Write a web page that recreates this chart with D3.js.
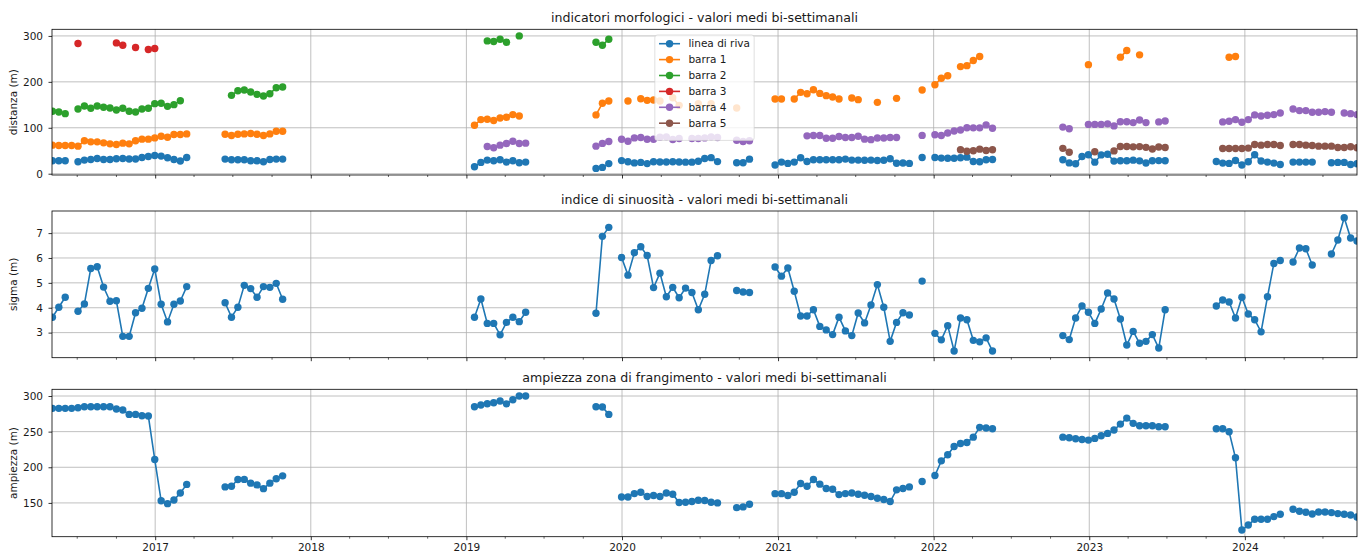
<!DOCTYPE html>
<html>
<head>
<meta charset="utf-8">
<script src="https://cdn.jsdelivr.net/npm/d3@7"></script>
<style>
  html, body { margin: 0; padding: 0; background: #fff; }
  svg { display: block; font-family: "DejaVu Sans", sans-serif; }
</style>
</head>
<body>
<svg id="chart" width="1365" height="554"></svg>
<script>
// Sampling grid: one averaged value every 15 days starting from START.
const START = "2016-05-05";
const STEP_DAYS = 15;
const N_SAMPLES = 205;
const X_DOMAIN = ["2016-05-04", "2024-09-20"];
const YEAR_TICKS = ["2017", "2018", "2019", "2020", "2021", "2022", "2023", "2024"];

// Each series is a list of runs: [index of first sample, consecutive values]
const lineaDiRiva = [
  [0, [28.2, 28.2, 28.2]],
  [4, [26, 29.6, 31, 33, 31, 31, 32.5, 33, 32, 32, 35.4, 37.6, 39.8, 38.3, 34.7, 31, 27.5, 35.4]],
  [27, [31.8, 30.4, 30.4, 30.4, 28.2, 28.2, 26, 31, 31.8, 31.8]],
  [66, [15.2, 24.6, 29.6, 28.2, 30.4, 25.3, 28.2, 23.9, 25.3]],
  [85, [11.6, 13.7, 22]],
  [89, [28.5, 26, 23.5, 24.6, 22, 26, 25.6, 25.6, 26, 25.6, 25.2, 25.2, 27, 33.2, 35, 26.4]],
  [107, [23.9, 23.9, 31.7]],
  [113, [18.8, 25.3, 22.4, 25.3, 34.7, 26.7, 30.4, 30.4, 30.4, 30.4, 30.4, 31.8, 29.6, 29.6, 29.2, 29.6, 28.9, 29.2, 32.5, 22.8, 23.2, 22.4]],
  [136, [35.4]],
  [138, [35.4, 34, 33.7, 33.7, 34.7, 36, 26.7, 26, 30.4, 31]],
  [158, [30.4, 23.5, 21.7, 37.6, 41.2, 25.2, 40.9, 42.2, 27.4, 28.2, 28.2, 29.5, 28, 23.4, 28.2, 28.5, 28.2]],
  [182, [26.7, 23.1, 22.4, 28.9, 18.8, 26, 41.2, 27.5, 25.3, 23.1, 20.2]],
  [194, [25.3, 25.3, 25.3, 25.3]],
  [200, [23.9, 24.6, 24.6, 20.2, 21.7]]
];

const barra1 = [
  [0, [62.2, 61.4, 61.4, 61.4, 60, 71.6, 69.4, 69.4, 67.2, 65, 63.6, 66.5, 65, 71.6, 75.2, 75.2, 78, 81.7, 79.5, 85.3, 85.3, 86.7]],
  [27, [86, 83.1, 86, 86.7, 87.5, 86, 83.1, 86.7, 92.5, 92.5]],
  [66, [105.5, 117.8, 118.6, 115.7, 121.4, 122.9, 128.7, 125.8]],
  [85, [128, 153.3, 158.3]],
  [90, [158.3]],
  [92, [163.3, 159.7, 160.4, 158.3]],
  [97, [165.5, 148.8]],
  [101, [152.5]],
  [103, [152.5]],
  [107, [143.2]],
  [113, [162.7, 162.7]],
  [116, [162.7, 177.1, 174.2, 182.9, 174.9, 169.9, 167, 162.7]],
  [125, [164.8, 161.2]],
  [129, [155.4]],
  [132, [164.1]],
  [136, [182.2]],
  [138, [193.7, 207.8, 213.3]],
  [142, [233.2, 235.3, 246.5, 255.2]],
  [162, [237.5]],
  [167, [253.8, 268.1]],
  [170, [258.8]],
  [184, [253.7, 255.2]]
];

const barra2 = [
  [0, [135.9, 134.5, 130.8]],
  [4, [141, 147.5, 142.4, 147.5, 144.6, 143.1, 138.8, 142.4, 135.9, 134.5, 141, 142.4, 152.5, 153.3, 146.7, 150.4, 159]],
  [28, [170.6, 180.7, 182.2, 177.8, 172.8, 169.2, 174.2, 187.2, 188.7]],
  [68, [289.2, 287.7, 292.8, 286.3]],
  [73, [300]],
  [85, [286.3, 279.8, 292.8]]
];

const barra3 = [
  [4, [283.4]],
  [10, [284.8, 279.8]],
  [13, [274.7]],
  [15, [270.4, 272.5]]
];

const barra4 = [
  [68, [59.3, 56.4, 62.2, 65.8, 70.8, 65.8, 66.5]],
  [85, [60, 66, 70]],
  [89, [75.1, 70.8, 78, 78.7, 75.1, 75.1, 79.4, 80.2, 74.4, 76.6]],
  [100, [76.6, 76.6, 78, 80.2, 78.7]],
  [107, [73, 70.1, 71.6]],
  [118, [82.4, 83.1, 83.1, 77.3, 77.3, 81, 78.8, 78.8, 81.7, 75.2, 74.2, 77.7, 77.7, 78.7, 78.7]],
  [136, [83.4]],
  [138, [84.9, 83.1, 88.5, 92.9, 95, 100, 99.8, 99.8, 106.3, 99]],
  [158, [101.5, 98]],
  [162, [107.3, 107.3, 107.3, 108.5, 104.1, 113, 113, 111.3, 116.8, 111.3]],
  [173, [112.8, 114.6]],
  [183, [112.8, 114.2, 117.8, 112, 117.8, 128, 125.8, 127.2, 128.7, 132.3]],
  [194, [141, 137.4, 137.4, 133.7, 133.7, 135.2, 133.7]],
  [202, [132.3, 130.8, 128.7]]
];

const barra5 = [
  [142, [52, 48.8, 49.9, 53.5, 50.6, 52]],
  [158, [55.2, 46.6]],
  [163, [47.7]],
  [166, [49.6, 59.2, 59.2, 58.5, 59, 57.4, 53.8, 58.2, 57]],
  [183, [54.9, 54.9, 54.9, 54.9, 55.7, 63.6, 62.2, 63.6, 63.6, 61.4]],
  [194, [63.6, 63.6, 62.2, 61.4, 60, 60, 60, 57.1, 57.1, 58.6, 56.4]]
];

const sigma = [
  [0, [3.62, 4.02, 4.42]],
  [4, [3.86, 4.15, 5.58, 5.65, 4.83, 4.26, 4.28, 2.85, 2.85, 3.80, 3.98, 4.78, 5.56, 4.14, 3.43, 4.14, 4.27, 4.85]],
  [27, [4.20, 3.62, 4.02, 4.90, 4.77, 4.42, 4.85, 4.82, 4.98, 4.34]],
  [66, [3.62, 4.35, 3.37, 3.37, 2.91, 3.41, 3.62, 3.44, 3.82]],
  [85, [3.78, 6.87, 7.23]],
  [89, [6.02, 5.31, 6.21, 6.45, 6.10, 4.81, 5.39, 4.44, 4.82, 4.40, 4.79, 4.61, 3.92, 4.54, 5.90, 6.09]],
  [107, [4.69, 4.63, 4.61]],
  [113, [5.64, 5.27, 5.60, 4.66, 3.67, 3.67, 3.92, 3.25, 3.11, 2.92, 3.62, 3.07, 2.88, 3.79, 3.39, 4.11, 4.93, 4.02, 2.65, 3.41, 3.80, 3.71]],
  [136, [5.07]],
  [138, [2.97, 2.71, 3.28, 2.26, 3.59, 3.52, 2.69, 2.63, 2.79, 2.26]],
  [158, [2.88, 2.72, 3.59, 4.07, 3.82, 3.37, 3.95, 4.59, 4.35, 3.55, 2.50, 3.05, 2.57, 2.65, 2.92, 2.38, 3.92]],
  [182, [4.07, 4.31, 4.23, 3.59, 4.42, 3.75, 3.52, 3.03, 4.44, 5.78, 5.90]],
  [194, [5.84, 6.40, 6.37, 5.72]],
  [200, [6.16, 6.72, 7.62, 6.80, 6.68]]
];

const ampiezza = [
  [0, [282.7, 282.7, 282.7, 282.7, 283.6, 285, 285, 285, 285, 285, 281.7, 280.3, 274.2, 274.2, 272.3, 271.9, 211, 153, 149, 154, 164, 176]],
  [27, [172.5, 173.4, 182.8, 183, 177.7, 175.3, 170, 177.7, 184, 188]],
  [66, [285, 287.3, 289.2, 290.6, 293, 289, 294.8, 300, 300]],
  [85, [285, 284.5, 274.2]],
  [89, [158.4, 158.4, 163.1, 165, 158.9, 160.3, 158.9, 164, 162.2, 150.5, 151, 151.9, 153.8, 153.3, 151, 150]],
  [107, [143.4, 144.4, 148.1]],
  [113, [163, 163, 160.3, 165, 177.2, 173.4, 182.8, 176.3, 170.2, 169.2, 161.7, 163.1, 164, 162.2, 160.8, 158.9, 156.6, 154.7, 151.9, 168.3, 170.2, 172.5]],
  [136, [180]],
  [138, [188.4, 209, 217.5, 229.2, 233.4, 234.8, 242.3, 256, 255, 254]],
  [158, [242.3, 241.4, 240, 239, 238.1, 240.5, 244.2, 247.5, 252.2, 260.6, 269, 261.6, 258.3, 258.3, 258.3, 256.9, 256.9]],
  [182, [254, 254, 249.8, 213.3, 112, 119, 127, 127, 127, 130.8, 134]],
  [194, [141.1, 138.3, 136.9, 134.5, 137.3, 137.3, 136.4, 135, 134, 133.1, 130.3]]
];

const TITLES = [
  "indicatori morfologici - valori medi bi-settimanali",
  "indice di sinuosità - valori medi bi-settimanali",
  "ampiezza zona di frangimento - valori medi bi-settimanali"
];
const Y_LABELS = ["distanza (m)", "sigma (m)", "ampiezza (m)"];
const Y_TICKS = [[0, 100, 200, 300], [3, 4, 5, 6, 7], [150, 200, 250, 300]];
const SERIES_NAMES = ["linea di riva", "barra 1", "barra 2", "barra 3", "barra 4", "barra 5"];
const COLORS = ["#1f77b4", "#ff7f0e", "#2ca02c", "#d62728", "#9467bd", "#8c564b"];

// ---------------------------------------------------------------------------
const parse = d3.utcParse("%Y-%m-%d");
const t0 = parse(START);

function expand(runs) {
  const vals = new Array(N_SAMPLES).fill(null);
  runs.forEach(([i0, vs]) => vs.forEach((v, k) => { vals[i0 + k] = v; }));
  return vals.map((v, i) => ({ date: d3.utcDay.offset(t0, i * STEP_DAYS), value: v }));
}

const svg = d3.select("#chart");
const LEFT = 52, RIGHT = 1357;
const FS = 10.5, TITLE_FS = 12.6, R = 3.7, LW = 1.6;
const x = d3.scaleUtc().domain(X_DOMAIN.map(parse)).range([LEFT, RIGHT]);
const yearDates = YEAR_TICKS.map(y => parse(y + "-01-01"));
const quarterDates = d3.utcMonth.every(3).range(x.domain()[0], x.domain()[1])
  .filter(d => d.getUTCMonth() !== 0);

const panels = [
  { top: 29.3, bottom: 175, series: [lineaDiRiva, barra1, barra2, barra3, barra4, barra5], colors: COLORS, legend: true },
  { top: 211, bottom: 357.7, series: [sigma], colors: [COLORS[0]] },
  { top: 389.3, bottom: 536.7, series: [ampiezza], colors: [COLORS[0]], xLabels: true }
];

const TEXT = "#1a1a1a";
const GRID = "#b0b0b0";

panels.forEach((p, pi) => {
  const data = p.series.map(expand);
  const allVals = data.flat().map(d => d.value).filter(v => v != null);
  const [mn, mx] = d3.extent(allVals);
  const pad = (mx - mn) * 0.05;
  const y = d3.scaleLinear().domain([mn - pad, mx + pad]).range([p.bottom, p.top]);
  const g = svg.append("g");

  const clipId = "clip" + pi;
  svg.append("clipPath").attr("id", clipId)
    .append("rect").attr("x", LEFT).attr("y", p.top)
    .attr("width", RIGHT - LEFT).attr("height", p.bottom - p.top);

  // grid
  const grid = g.append("g").attr("stroke", GRID).attr("stroke-width", 0.8);
  grid.selectAll("line.h").data(Y_TICKS[pi]).join("line")
    .attr("x1", LEFT).attr("x2", RIGHT)
    .attr("y1", d => y(d)).attr("y2", d => y(d));
  grid.selectAll("line.v").data(yearDates).join("line")
    .attr("x1", d => x(d)).attr("x2", d => x(d))
    .attr("y1", p.top).attr("y2", p.bottom);

  // series
  const plot = g.append("g").attr("clip-path", `url(#${clipId})`);
  const line = d3.line().defined(d => d.value != null)
    .x(d => x(d.date)).y(d => y(d.value));
  data.forEach((ser, si) => {
    const c = p.colors[si];
    plot.append("path").datum(ser).attr("d", line)
      .attr("fill", "none").attr("stroke", c).attr("stroke-width", LW);
    plot.append("g").selectAll("circle").data(ser.filter(d => d.value != null)).join("circle")
      .attr("cx", d => x(d.date)).attr("cy", d => y(d.value))
      .attr("r", R).attr("fill", c);
  });

  // frame
  g.append("rect").attr("x", LEFT).attr("y", p.top)
    .attr("width", RIGHT - LEFT).attr("height", p.bottom - p.top)
    .attr("fill", "none").attr("stroke", "#000").attr("stroke-width", 0.8);

  // y axis
  const yAxis = g.append("g").attr("transform", `translate(${LEFT},0)`)
    .call(d3.axisLeft(y).tickValues(Y_TICKS[pi]).tickSize(3.5).tickPadding(5.5).tickFormat(d3.format("d")));
  yAxis.select(".domain").remove();
  yAxis.selectAll("line").attr("stroke", "#000").attr("stroke-width", 0.8);
  yAxis.selectAll("text").attr("font-size", FS).attr("fill", TEXT)
    .attr("font-family", "DejaVu Sans, sans-serif");

  // x axis: yearly major ticks, quarterly minor ticks
  const xAxis = g.append("g").attr("transform", `translate(0,${p.bottom})`)
    .call(d3.axisBottom(x).tickValues(yearDates).tickSize(3.5).tickPadding(3.3)
      .tickFormat(p.xLabels ? d3.utcFormat("%Y") : () => ""));
  xAxis.select(".domain").remove();
  xAxis.selectAll("line").attr("stroke", "#000").attr("stroke-width", 0.8);
  xAxis.selectAll("text").attr("font-size", FS).attr("fill", TEXT)
    .attr("font-family", "DejaVu Sans, sans-serif");
  const xMinor = g.append("g").attr("transform", `translate(0,${p.bottom})`)
    .call(d3.axisBottom(x).tickValues(quarterDates).tickSize(2).tickFormat(() => ""));
  xMinor.select(".domain").remove();
  xMinor.selectAll("line").attr("stroke", "#000").attr("stroke-width", 0.6);

  // title and y label
  g.append("text").attr("x", (LEFT + RIGHT) / 2).attr("y", p.top - 7)
    .attr("text-anchor", "middle").attr("font-size", TITLE_FS).attr("fill", TEXT)
    .text(TITLES[pi]);
  g.append("text")
    .attr("transform", `translate(17,${(p.top + p.bottom) / 2}) rotate(-90)`)
    .attr("text-anchor", "middle").attr("font-size", FS).attr("fill", TEXT)
    .text(Y_LABELS[pi]);

  // legend
  if (p.legend) {
    const lg = g.append("g");
    const rowH = 15.9;
    const texts = lg.selectAll("text").data(SERIES_NAMES).join("text")
      .attr("font-size", FS).attr("fill", TEXT)
      .attr("dy", "0.35em")
      .text(d => d);
    const maxW = d3.max(texts.nodes(), n => n.getComputedTextLength());
    const padIn = 0.4 * FS, handle = 2 * FS, gap = 0.8 * FS;
    const boxW = padIn + handle + gap + maxW + padIn;
    const boxH = 8.5 + rowH * SERIES_NAMES.length + 1.5;
    const bx = (LEFT + RIGHT) / 2 - boxW / 2;
    const by = p.top + 5.7;
    lg.insert("rect", "text").attr("x", bx).attr("y", by)
      .attr("width", boxW).attr("height", boxH).attr("rx", 2.5)
      .attr("fill", "#fff").attr("fill-opacity", 0.8)
      .attr("stroke", "#cccccc").attr("stroke-opacity", 0.8).attr("stroke-width", 0.8);
    const rowY = i => by + 8.7 + i * rowH;
    texts.attr("x", bx + padIn + handle + gap).attr("y", (d, i) => rowY(i));
    SERIES_NAMES.forEach((name, i) => {
      lg.append("line").attr("x1", bx + padIn).attr("x2", bx + padIn + handle)
        .attr("y1", rowY(i)).attr("y2", rowY(i))
        .attr("stroke", COLORS[i]).attr("stroke-width", LW);
      lg.append("circle").attr("cx", bx + padIn + handle / 2).attr("cy", rowY(i)).attr("r", R)
        .attr("fill", COLORS[i]);
    });
  }
});
</script>
</body>
</html>
